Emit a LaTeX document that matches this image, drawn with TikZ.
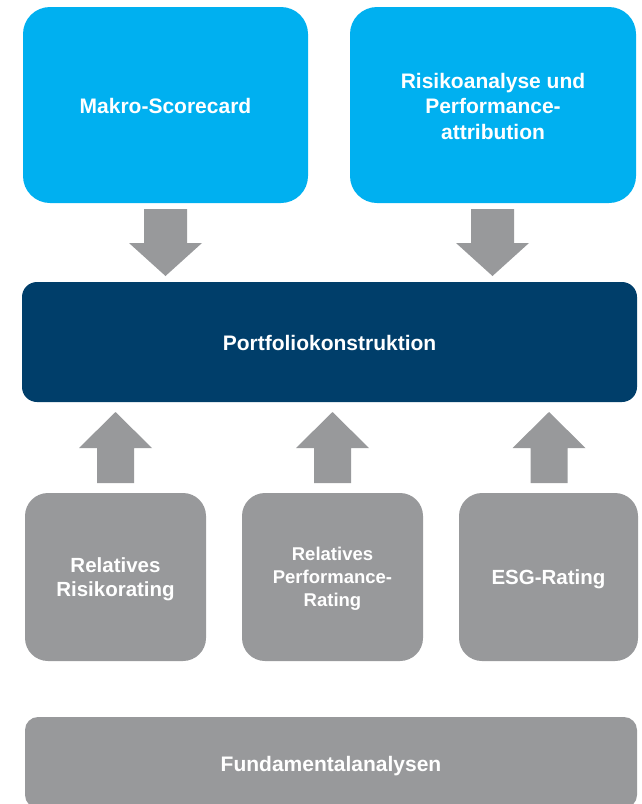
\documentclass[tikz,border=0pt]{standalone}
\usepackage{fontspec}
\setmainfont{Liberation Sans}
\definecolor{lblue}{RGB}{0,176,240}
\definecolor{navy}{RGB}{0,62,106}
\definecolor{gbox}{RGB}{152,153,155}
\begin{document}
\begin{tikzpicture}[x=1pt,y=-1pt,
  box/.style={draw=none,text=white,font=\bfseries\fontsize{21}{25.5}\selectfont,align=center},
  arr/.style={fill=gbox,draw=none}]
\useasboundingbox (0,0) rectangle (641,804);
\clip (0,0) rectangle (641,804);
% top boxes
\fill[lblue,rounded corners=27pt] (23,7) rectangle (308,203);
\node[box] (makro) at (165.5,106) {Makro-Scorecard};
\fill[lblue,rounded corners=27pt] (350,7) rectangle (636,203);
\node[box] (risk) at (493,106) {Risikoanalyse und\\Performance-\\attribution};
% portfolio
\fill[navy,rounded corners=15pt] (22,282) rectangle (637,402);
\node[box] (port) at (329.5,343) {Portfoliokonstruktion};
% gray boxes
\fill[gbox,rounded corners=23pt] (25,493) rectangle (206,661);
\node[box,font=\bfseries\fontsize{20.5}{24}\selectfont] (rr) at (115.5,579) {Relatives\\Risikorating};
\fill[gbox,rounded corners=23pt] (242,493) rectangle (423,661);
\node[box,font=\bfseries\fontsize{18.5}{23}\selectfont] (pr) at (332.5,579) {Relatives\\Performance-\\Rating};
\fill[gbox,rounded corners=23pt] (459,493) rectangle (638,661);
\node[box,font=\bfseries\fontsize{20.5}{24}\selectfont] (esg) at (548.5,579) {ESG-Rating};
\fill[gbox,rounded corners=13pt] (25,717) rectangle (637,808);
\node[box] (fund) at (331,766) {Fundamentalanalysen};
% down arrows
\foreach \c in {165.5,492.5}{
  \fill[arr] (\c-21.5,209) -- (\c+21.5,209) -- (\c+21.5,243) -- (\c+36.5,243)
     -- (\c,276) -- (\c-36.5,243) -- (\c-21.5,243) -- cycle;
}
% up arrows
\foreach \c in {115.5,332.5,549}{
  \fill[arr] (\c-18.5,483) -- (\c+18.5,483) -- (\c+18.5,448) -- (\c+36.5,448)
     -- (\c,412) -- (\c-36.5,448) -- (\c-18.5,448) -- cycle;
}
\end{tikzpicture}
\end{document}
